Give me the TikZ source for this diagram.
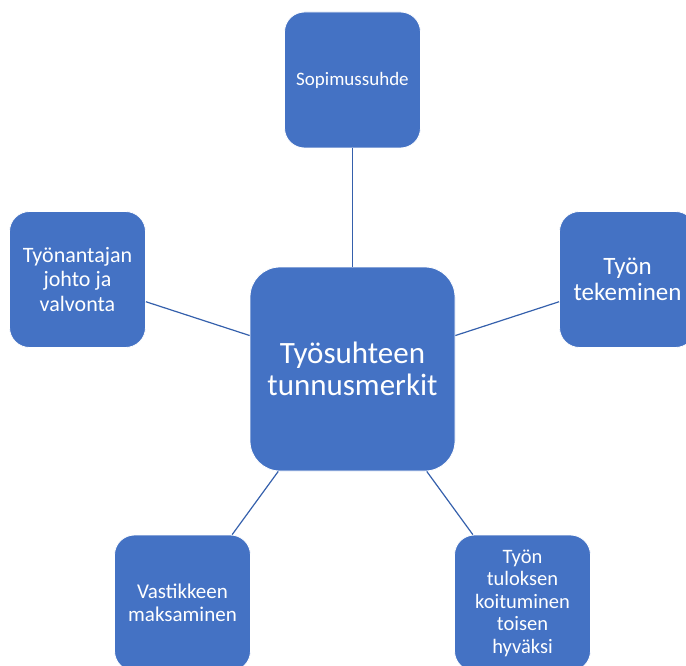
\documentclass[tikz,border=0pt]{standalone}
\usepackage{fontspec}
\setmainfont{Carlito}
\definecolor{boxblue}{HTML}{4472C4}
\definecolor{lineblue}{HTML}{3560AC}
\tikzset{
  leaf/.style={draw=white, line width=0.8pt, fill=boxblue, text=white,
    rounded corners=20pt, minimum width=136pt, minimum height=136pt,
    inner sep=0pt, align=center},
  hub/.style={leaf, rounded corners=30pt, minimum width=205pt, minimum height=204pt},
  link/.style={lineblue, line width=1.2pt}
}
\begin{document}
\begin{tikzpicture}[x=1pt,y=-1pt]
      \useasboundingbox (0,0) rectangle (686,666);
      \draw
        (352.5,369) node[hub, font=\fontsize{31}{32}\selectfont] (hub){Työsuhteen\\tunnusmerkit}
        (352.5,80) node[leaf, font=\fontsize{19}{22}\selectfont] (sopimus){Sopimussuhde}
        (77.5,279.5) node[leaf, font=\fontsize{22}{24.5}\selectfont] (johto){Työnantajan\\johto ja\\valvonta}
        (627.5,279.5) node[leaf, font=\fontsize{25}{26.5}\selectfont] (tekeminen){Työn\\tekeminen}
        (182.5,603) node[leaf, font=\fontsize{21}{22.5}\selectfont] (vastike){Vastikkeen\\maksaminen}
        (522.5,603) node[leaf, font=\fontsize{20.5}{22.5}\selectfont] (tulos){Työn\\tuloksen\\koituminen\\toisen\\hyväksi};
      \begin{scope}[-]
        \draw[link] (hub) to (sopimus);
        \draw[link] (hub) to (johto);
        \draw[link] (hub) to (tekeminen);
        \draw[link] (hub) to (vastike);
        \draw[link] (hub) to (tulos);
      \end{scope}
    \end{tikzpicture}
\end{document}
